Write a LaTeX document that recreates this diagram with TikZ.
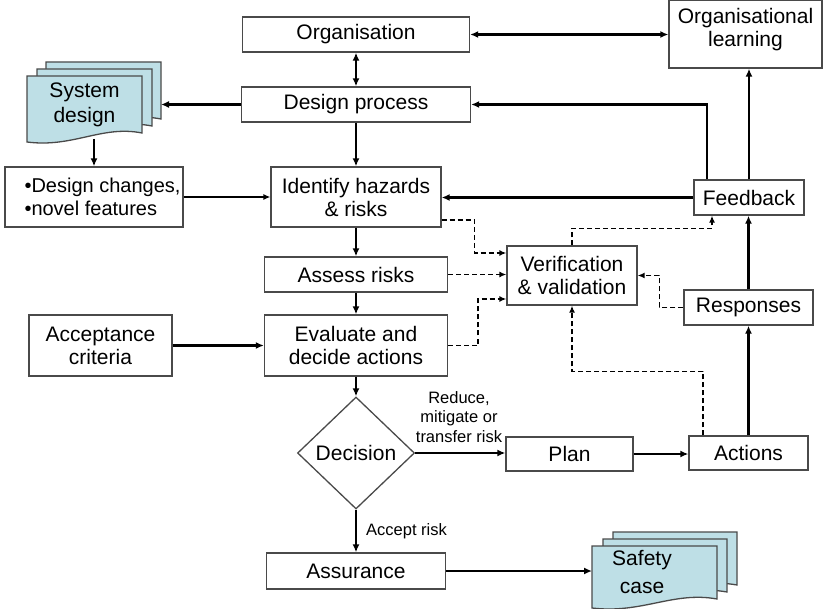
\documentclass[tikz,border=0pt]{standalone}
\usepackage{fontspec}
\setmainfont{Liberation Sans}
\usetikzlibrary{arrows.meta,shapes.geometric}
\definecolor{docblue}{HTML}{BEDFE6}
\definecolor{boxline}{HTML}{4A4A4A}
\tikzset{
  box/.style={draw=boxline, line width=1.3pt, fill=white, rectangle, inner sep=0pt, align=center, font=\fontsize{21}{23}\selectfont},
  conn/.style={line width=2.2pt, -{Latex[length=8pt,width=7pt]}},
  dconn/.style={line width=1.4pt, dash pattern=on 5pt off 3pt, -{Latex[length=7pt,width=6pt]}},
  lbl/.style={font=\fontsize{16.5}{19.5}\selectfont, align=center, inner sep=0pt},
  doctext/.style={font=\fontsize{21}{25}\selectfont, align=center, inner sep=0pt},
  docpage/.style={draw=boxline, line width=1.3pt, fill=docblue},
}
\newcommand{\mydocpage}[4]{% x0, ytop, width, left height
  \filldraw[docpage] (#1,#2) -- ({#1+#3},#2) -- ({#1+#3},{#2+#4-9})
    .. controls ({#1+0.65*#3},{#2+#4-17}) and ({#1+0.4*#3},{#2+#4+6}) .. (#1,{#2+#4}) -- cycle;}
\begin{document}
\begin{tikzpicture}[x=1pt,y=-1pt]
\useasboundingbox (0,0) rectangle (824,609);
\fill[white] (0,0) rectangle (824,609);

% boxes
\node[box, minimum width=227pt, minimum height=35pt] (org) at (356,34.5) {Organisation};
\node[box, minimum width=153pt, minimum height=68pt] (orglearn) at (745.5,34) {};
\node[font=\fontsize{21}{23}\selectfont, align=center, inner sep=0pt] (orglearntext) at (745.5,30) {Organisational\\learning};
\node[box, minimum width=229pt, minimum height=35pt] (design) at (356,104.5) {Design process};
\node[box, minimum width=178pt, minimum height=60pt] (changes) at (94,197) {};
\node[font=\fontsize{20}{23}\selectfont, align=left, inner sep=0pt] (changestext) at (102.5,197) {\textbullet Design changes,\\\textbullet novel features};
\node[box, minimum width=170pt, minimum height=60pt] (identify) at (356,197) {Identify hazards\\\& risks};
\node[box, minimum width=110pt, minimum height=35pt] (feedback) at (749,197.5) {Feedback};
\node[box, minimum width=183pt, minimum height=35pt] (assess) at (356,274.5) {Assess risks};
\node[box, minimum width=183pt, minimum height=61pt] (evaluate) at (356,345.5) {Evaluate and\\decide actions};
\node[box, minimum width=143pt, minimum height=61pt] (accept) at (100.5,345.5) {Acceptance\\criteria};
\node[box, minimum width=130pt, minimum height=59pt] (vv) at (572,275.5) {Verification\\\& validation};
\node[box, minimum width=129pt, minimum height=35pt] (responses) at (748.5,307.5) {Responses};
\node[box, minimum width=127pt, minimum height=34pt] (plan) at (569.5,454) {Plan};
\node[box, minimum width=119pt, minimum height=34pt] (actions) at (748.5,453) {Actions};
\node[diamond, draw=boxline, line width=1.3pt, fill=white, minimum width=117pt, minimum height=112pt, inner sep=0pt, font=\fontsize{21}{23}\selectfont] (dec) at (356,453) {Decision};
\node[box, minimum width=179pt, minimum height=36pt] (assurance) at (356,571) {Assurance};

% document stacks
\mydocpage{46}{62}{115}{66}
\mydocpage{37}{69}{115}{66}
\mydocpage{27}{76}{115}{66}
\node[doctext] (sysdesign) at (84.5,105) {System\\design};
\coordinate (sysin) at (161,104.5);
\coordinate (sysout) at (94,139);

\mydocpage{613}{532}{124}{62}
\mydocpage{603}{539}{124}{62}
\mydocpage{592}{546}{125}{62}
\node[font=\fontsize{21}{28}\selectfont, align=center, inner sep=0pt] (safety) at (642,572) {Safety\\case};
\coordinate (safein) at (592,571);

% solid connectors
\draw[line width=2.2pt, {Latex[length=8pt,width=7pt]}-{Latex[length=8pt,width=7pt]}] (org.east) -- (org.east -| orglearn.west);
\draw[line width=2.2pt, {Latex[length=8pt,width=7pt]}-{Latex[length=8pt,width=7pt]}] (org.south) -- (design.north);
\draw[conn] (design.west) -- (sysin);
\draw[conn] (sysout) -- (changes.north);
\draw[line width=1.3pt, -{Latex[length=7pt,width=6pt]}] (changes.east) -- (identify.west);
\draw[conn] (design.south) -- (identify.north);
\draw[conn] (feedback.west) -- (feedback.west -| identify.east);
\draw[conn] ([xshift=-42pt]feedback.north) |- (design.east);
\draw[conn] (feedback.north) -- (feedback.north |- orglearn.south);
\draw[conn] (identify.south) -- (assess.north);
\draw[conn] (assess.south) -- (evaluate.north);
\draw[conn] (evaluate.south) -- (dec.north);
\draw[conn] (accept.east) -- (evaluate.west);
\draw[conn] (dec.east) -- (dec.east -| plan.west);
\draw[conn] (plan.east) -- (plan.east -| actions.west);
\draw[conn] (actions.north) -- (responses.south);
\draw[conn] (responses.north) -- (responses.north |- feedback.south);
\draw[conn] (dec.south) -- (assurance.north);
\draw[conn] (assurance.east) -- (safein);

% labels
\node[lbl] (reducelbl) at (459,417) {Reduce,\\mitigate or\\transfer risk};
\node[lbl, anchor=west] (acceptlbl) at (366,531) {Accept risk};

% dashed connectors
\draw[dconn] ([yshift=-23pt]identify.east) -- ++(33,0) |- ([yshift=22.5pt]vv.west);
\draw[dconn] (assess.east) -- (assess.east -| vv.west);
\draw[dconn] (evaluate.east) -- ++(30,0) |- ([yshift=-23.5pt]vv.west);
\draw[dconn] (vv.north) -- ++(0,-17) -| ([xshift=-37pt]feedback.south);
\draw[dconn] (responses.west) -- ++(-24,0) |- (vv.east);
\draw[dconn] ([xshift=-45.5pt]actions.north) -- ++(0,-64) -| (vv.south);
\end{tikzpicture}
\end{document}
